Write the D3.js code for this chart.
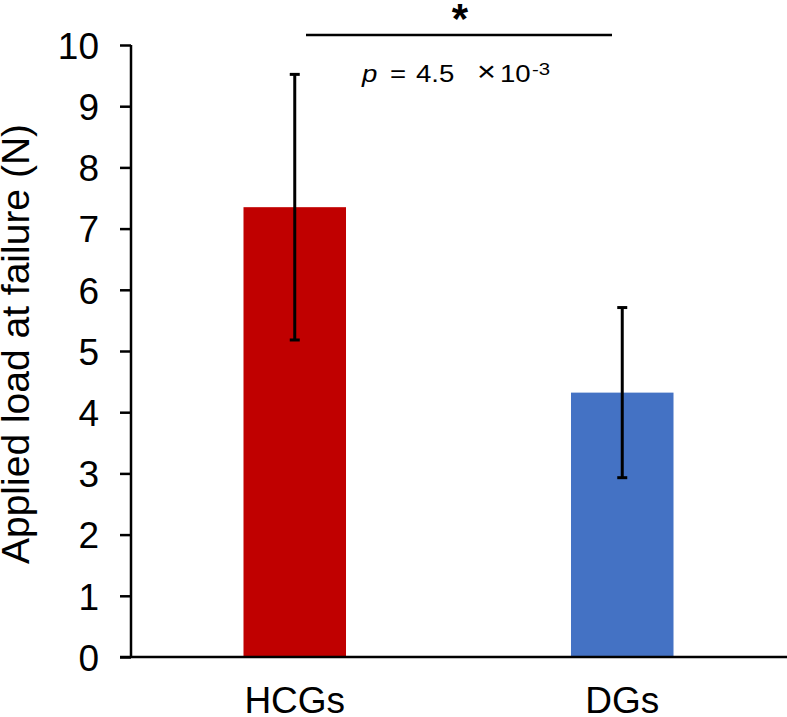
<!DOCTYPE html>
<html>
<head>
<meta charset="utf-8">
<script src="https://cdn.jsdelivr.net/npm/d3@7"></script>
<style>
  html, body { margin: 0; padding: 0; background: #fff; }
  svg { display: block; }
  text { font-family: Arial, "Liberation Sans", sans-serif; fill: #000; }
</style>
</head>
<body>
<svg id="chart" width="787" height="717"></svg>
<script>
const categories = ["HCGs", "DGs"];
const means = [7.35, 4.32];
const errors = [2.17, 1.39];
const barColors = ["#C00000", "#4472C4"];
const yTicks = [0, 1, 2, 3, 4, 5, 6, 7, 8, 9, 10];
const yLabel = "Applied load at failure (N)";
const sigStar = "*";
const pParts = ["p", "=", "4.5", "\u00D7", "10"];
const pExp = "-3";

const svg = d3.select("#chart");
const x0 = 131, x1 = 786, yBottom = 657, yTop = 45;

const y = d3.scaleLinear().domain([0, 10]).range([yBottom, yTop]);
const x = d3.scaleBand().domain(categories).range([x0, x1])
  .paddingInner(0.687).paddingOuter(0.3435);

// bars
svg.append("g").selectAll("rect").data(categories).join("rect")
  .attr("x", d => x(d))
  .attr("y", (d, i) => y(means[i]))
  .attr("width", x.bandwidth())
  .attr("height", (d, i) => y(0) - y(means[i]))
  .attr("fill", (d, i) => barColors[i]);

// y axis
const yAxis = d3.axisLeft(y).tickValues(yTicks).tickSize(11).tickPadding(21);
const gy = svg.append("g").attr("transform", `translate(${x0},0)`).call(yAxis);
gy.select(".domain").attr("stroke", "#000").attr("stroke-width", 2.5)
  .attr("d", `M0,${yTop}V${yBottom}`);
gy.selectAll(".tick line").attr("stroke", "#000").attr("stroke-width", 2.5);
gy.selectAll(".tick text").style("font-size", "37px").attr("dy", "0.36em");

// x axis
const xAxis = d3.axisBottom(x).tickSize(0).tickPadding(30);
const gx = svg.append("g").attr("transform", `translate(0,${yBottom})`).call(xAxis);
gx.select(".domain").attr("stroke", "#000").attr("stroke-width", 2.5)
  .attr("d", `M${x0 - 11},0H787`);
gx.selectAll(".tick text").style("font-size", "37px").attr("dy", "0.71em");

// error bars
const eb = svg.append("g").attr("stroke", "#000").attr("stroke-width", 3);
categories.forEach((c, i) => {
  const cx = x(c) + x.bandwidth() / 2;
  eb.append("line").attr("x1", cx).attr("x2", cx)
    .attr("y1", y(means[i] + errors[i])).attr("y2", y(means[i] - errors[i]));
  [means[i] + errors[i], means[i] - errors[i]].forEach(v => {
    eb.append("line").attr("x1", cx - 5).attr("x2", cx + 5)
      .attr("y1", y(v)).attr("y2", y(v));
  });
});

// y label
svg.append("text")
  .attr("transform", `translate(29,344) rotate(-90)`)
  .attr("text-anchor", "middle")
  .style("font-size", "39px")
  .text(yLabel);

// significance
svg.append("line").attr("x1", 306).attr("x2", 612).attr("y1", 35).attr("y2", 35)
  .attr("stroke", "#000").attr("stroke-width", 2.5);
svg.append("text").attr("x", 460).attr("y", 33).attr("text-anchor", "middle")
  .style("font-size", "42px").style("font-weight", "bold").text(sigStar);

const sx = 1.2;
const pX = [362, 390, 416, 477, 500];
const pSize = [23, 23, 23, 27, 23];
const pg = svg.append("g").attr("transform", `scale(${sx},1)`);
const pt = pg.append("text").attr("y", 82);
pParts.forEach((s, i) => {
  const t = pt.append("tspan").attr("x", pX[i] / sx).attr("y", i === 3 ? 81 : 82)
    .style("font-size", pSize[i] + "px").text(s);
  if (i === 0) t.style("font-style", "italic");
});
pt.append("tspan").attr("x", 532 / sx).attr("y", 75).style("font-size", "17px").text(pExp);
</script>
</body>
</html>
